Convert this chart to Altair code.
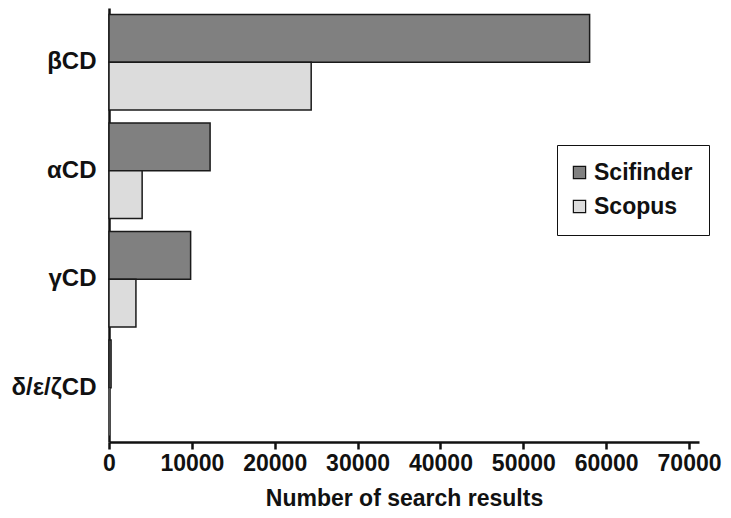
import altair as alt
import pandas as pd

categories = ["βCD", "αCD", "γCD", "δ/ε/ζCD"]
series = ["Scifinder", "Scopus"]
scifinder = [58000, 12200, 9850, 250]
scopus = [24400, 4000, 3250, 40]
x_ticks = [0, 10000, 20000, 30000, 40000, 50000, 60000, 70000]

rows = []
for c, a, b in zip(categories, scifinder, scopus):
    rows.append({"cd": c, "source": series[0], "value": a})
    rows.append({"cd": c, "source": series[1], "value": b})
df = pd.DataFrame(rows)

FONT = "Liberation Sans"

chart = alt.Chart(df).mark_bar(stroke="#1a1a1a").encode(
    x=alt.X("value:Q",
            scale=alt.Scale(domain=[0, 71200], nice=False, zero=True),
            axis=alt.Axis(values=x_ticks, title="Number of search results", grid=False,
                          format="d", labelFontSize=23, titleFontSize=23,
                          labelFontWeight="bold", titleFontWeight="bold",
                          labelFont=FONT, titleFont=FONT, labelColor="#111",
                          titleColor="#111", domainColor="#111", domainWidth=2.5,
                          tickColor="#111", tickWidth=2.5, tickSize=7, labelPadding=3,
                          titlePadding=12, labelFlush=False)),
    y=alt.Y("cd:N", sort=categories,
            scale=alt.Scale(paddingInner=0.12, paddingOuter=0.06),
            axis=alt.Axis(title=None, ticks=False, labelFontSize=24, labelFontWeight="bold",
                          labelFont=FONT, labelColor="#111", domainColor="#111",
                          domainWidth=2.5, labelPadding=13)),
    yOffset=alt.YOffset("source:N", sort=series,
                        scale=alt.Scale(paddingInner=0, paddingOuter=0)),
    strokeWidth=alt.condition(alt.datum.value < 100, alt.value(0), alt.value(1.5)),
    color=alt.Color("source:N", sort=series,
                    scale=alt.Scale(domain=series, range=["#808080", "#dcdcdc"]),
                    legend=alt.Legend(title=None, orient="none", legendX=448, legendY=137,
                                      strokeColor="#111", fillColor="white", padding=16,
                                      symbolType="square", symbolSize=150,
                                      symbolOffset=-5,
                                      symbolStrokeColor="#111", symbolStrokeWidth=1.2,
                                      labelFontSize=23, labelFontWeight="bold",
                                      labelFont=FONT, labelColor="#111", rowPadding=10,
                                      labelOffset=3)),
).properties(
    width=590, height=434,
    autosize=alt.AutoSizeParams(type="none"),
    padding={"left": 101, "top": 0, "right": 23, "bottom": 70},
).configure_view(stroke=None)

chart.save("out.html", embed_options={"renderer": "svg", "actions": False})
